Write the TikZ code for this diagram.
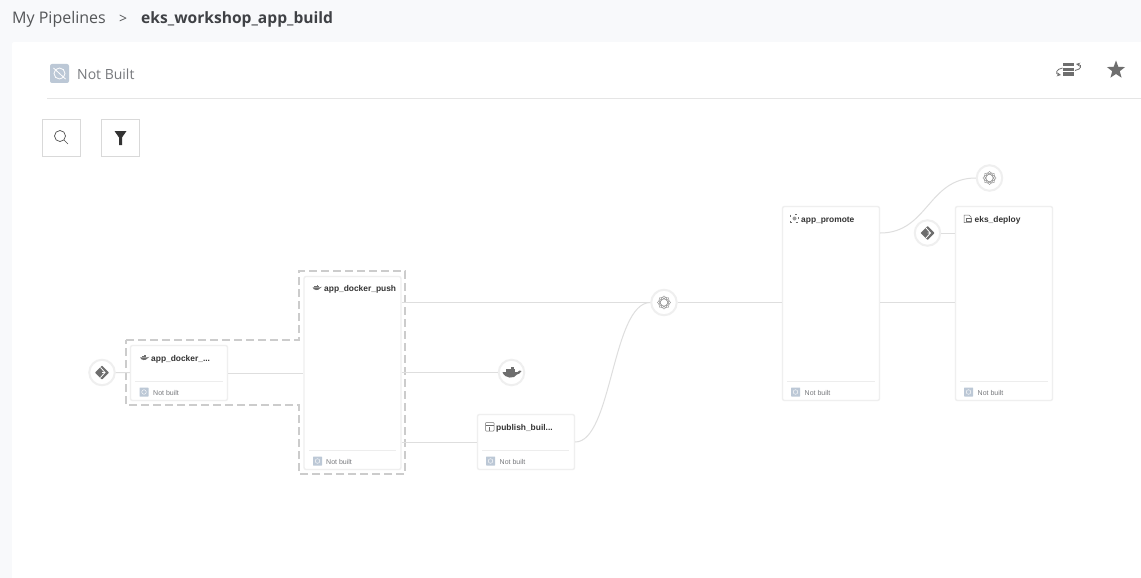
\documentclass[tikz,border=0pt]{standalone}
\usepackage{fontspec}
\setmainfont{Open Sans}
\newfontfamily\cardfont{Liberation Sans}
\usepackage{xcolor}
\usetikzlibrary{shapes.geometric}
\definecolor{pagebg}{HTML}{F8F9FB}
\definecolor{wire}{HTML}{DEDEDE}
\definecolor{rim}{HTML}{EFEFEF}
\definecolor{glyph}{HTML}{6E6E6E}
\definecolor{badge}{HTML}{BCC8D6}
\definecolor{inktext}{HTML}{3F4145}
\definecolor{softtext}{HTML}{77797D}
\tikzset{
	card/.style={shape=rectangle,draw=rim,line width=1.4pt,fill=white,rounded corners=2pt,inner sep=0pt,minimum width=97pt},
	hub/.style={shape=circle,draw=rim,line width=2pt,fill=white,inner sep=0pt,minimum size=25.5pt},
	wireline/.style={draw=wire,line width=1pt},
	cardtitle/.style={anchor=west,inner sep=0pt,text=black!80,font=\cardfont\bfseries\fontsize{8.4}{10}\selectfont},
	cardstate/.style={anchor=west,inner sep=0pt,text=softtext,font=\cardfont\fontsize{7}{9}\selectfont},
	statebox/.style={shape=rectangle,fill=badge,inner sep=0pt,minimum size=9pt,rounded corners=.5pt,
		path picture={\draw[white,line width=.4pt] (path picture bounding box.center) circle (2.3pt);}},
	toolbox/.style={shape=rectangle,draw=black!15,line width=.8pt,fill=white,minimum width=38pt,minimum height=37pt,inner sep=0pt},
	gitmark/.pic={
		\fill[glyph,rounded corners=.6pt] (-7,0) -- (0,-7) -- (7,0) -- (0,7) -- cycle;
		\draw[white,line width=.8pt] (-1.5,-5) -- (3,0) -- (-1.5,5) (3,0) -- (0,0);
	},
	whale/.pic={
		\fill[glyph] (-9,-.5) -- (6,-.5) .. controls (7,-2) and (9,-2.5) .. (10,-1.5) .. controls (9,1) and (7,1.5) .. (5.5,2) .. controls (3,6.5) and (-7,6.5) .. (-9,-.5) -- cycle;
		\fill[glyph] (-6,-3.2) rectangle (3,-1);
		\fill[glyph] (-1,-6) rectangle (2,-3.6);
	},
	knotmark/.pic={
		\foreach \ang in {0,45,90,135}{
			\draw[glyph!75,line width=.45pt,rotate=\ang] (0,0) ellipse (6.5pt and 3.4pt);
		}
	}
}
\begin{document}
\begin{tikzpicture}[x=1pt,y=-1pt]
	\useasboundingbox (0,0) rectangle (1141,578);
	\fill[pagebg] (0,0) rectangle (1141,578);
	\fill[white,rounded corners=2pt] (12,42) rectangle (1150,590);

	%% header
	\node[anchor=base west,inner sep=0pt,text=softtext!70!black,font=\fontsize{16}{18}\selectfont] (crumb) at (12,24) {My Pipelines};
	\node[anchor=base west,inner sep=0pt,text=softtext!70!black,font=\fontsize{14}{18}\selectfont] (crumbsep) at (119,24) {>};
	\node[anchor=base west,inner sep=0pt,text=inktext,font=\bfseries\fontsize{15.6}{18}\selectfont] (pipeline) at (141,24) {eks\_workshop\_app\_build};
	\node[shape=rectangle,fill=badge,rounded corners=2pt,minimum size=19pt,inner sep=0pt] (statusicon) at (59.5,73.5) {};
	\draw[white,line width=.8pt] (statusicon.center) circle (5.5pt);
	\draw[white,line width=.8pt] (53.5,68) -- (65.5,79);
	\node[anchor=base west,inner sep=0pt,text=softtext,font=\fontsize{14}{16}\selectfont] (statustext) at (77,80) {Not Built};
	\draw[black!10,line width=.8pt] (47,98.5) -- (1141,98.5);

	%% tool buttons
	\node[toolbox] (searchbox) at (61,137.5) {};
	\node[toolbox] (filterbox) at (120,137.5) {};
	\draw[glyph!70!black,line width=.7pt] (60,136) circle (5.5pt);
	\draw[glyph!70!black,line width=.7pt] (64,140) -- (68,144);
	\fill[black!80] (114.5,131) -- (126.5,131) -- (122,137.5) -- (122,145) -- (119,145) -- (119,137.5) -- cycle;

	%% top right icons
	\fill[glyph] (1063,63) rectangle (1074,66.5);
	\fill[glyph] (1063,67.8) rectangle (1074,71);
	\fill[glyph] (1063,72.3) rectangle (1074,75.8);
	\draw[glyph,line width=.8pt,->,>=stealth] (1062.5,68) .. controls (1056,69) and (1055,74) .. (1061,75);
	\draw[glyph,line width=.8pt,->,>=stealth] (1075,70.5) .. controls (1081.5,69.5) and (1082,65) .. (1076,64);
	\node[shape=star,star points=5,star point ratio=2.4,fill=glyph,inner sep=0pt,minimum size=19pt] (favstar) at (1116,70) {};

	%% group outline
	\draw[black!20,line width=1.2pt,dash pattern=on 8pt off 4pt] (126,340) -- (299,340) -- (299,271) -- (405,271) -- (405,474) -- (299,474) -- (299,405) -- (126,405) -- cycle;

	%% cards
	\node[card,minimum height=55pt] (dockerbuild) at (179,373) {};
	\node[card,minimum height=193pt] (dockerpush) at (352.5,373) {};
	\node[card,minimum height=55pt] (publish) at (526,442) {};
	\node[card,minimum height=194pt] (promote) at (831,303.5) {};
	\node[card,minimum height=194pt] (deploy) at (1004,303.5) {};

	%% round steps
	\node[hub] (gitstart) at (102,372.5) {};
	\node[hub] (dockerstep) at (511.5,372.5) {};
	\node[hub] (syncstep) at (664,302.5) {};
	\node[hub] (topstep) at (989.5,178) {};
	\node[hub] (gitdeploy) at (927.5,233) {};

	%% lines
	\draw[wireline] (gitstart) -- (dockerbuild);
	\draw[wireline] (dockerbuild) -- (dockerpush);
	\draw[wireline] (dockerpush.east |- syncstep) -- (syncstep);
	\draw[wireline] (dockerpush.east |- dockerstep) -- (dockerstep);
	\draw[wireline] (dockerpush.east |- publish) -- (publish);
	\draw[wireline] (publish.east) .. controls (612,442) and (612,303) .. (syncstep.west);
	\draw[wireline] (syncstep) -- (promote.west |- syncstep);
	\draw[wireline] (promote.east |- gitdeploy) .. controls (928,233) and (928,178) .. (topstep.west);
	\draw[wireline] (gitdeploy) -- (deploy.west |- gitdeploy);
	\draw[wireline] (promote.east |- syncstep) -- (deploy.west |- syncstep);

	%% step icons
	\pic at (gitstart) {gitmark};
	\pic at (gitdeploy) {gitmark};
	\pic at (dockerstep) {whale};
	\pic at (syncstep) {knotmark};
	\pic at (topstep) {knotmark};

	%% card texts
	\pic[scale=.5] at (144.5,357.5) {whale};
	\node[cardtitle] (dockerbuildname) at (151,359.5) {app\_docker\_...};
	\draw[black!7,line width=.7pt] (135,381) -- (223,381);
	\node[statebox] (dockerbuildbox) at (144,392) {};
	\node[cardstate] (dockerbuildstate) at (153,392.7) {Not built};

	\pic[scale=.5] at (317,287.5) {whale};
	\node[cardtitle] (dockerpushname) at (324,289.5) {app\_docker\_push};
	\draw[black!7,line width=.7pt] (309,450.5) -- (396,450.5);
	\node[statebox] (dockerpushbox) at (317.5,461) {};
	\node[cardstate] (dockerpushstate) at (326,461.7) {Not built};

	\draw[glyph,line width=.5pt,rounded corners=.8pt] (485.5,422.5) rectangle (494,431);
	\draw[glyph,line width=.5pt] (485.5,425) -- (494,425) (489.7,427) -- (489.7,431);
	\node[cardtitle] (publishname) at (496,428.5) {publish\_buil...};
	\draw[black!7,line width=.7pt] (482,450.5) -- (569,450.5);
	\node[statebox] (publishbox) at (490.5,461) {};
	\node[cardstate] (publishstate) at (499.5,461.7) {Not built};

	\draw[glyph,line width=.5pt,dash pattern=on 2pt off 4.5pt] (790.5,214.5) rectangle (798.5,222.5);
	\fill[glyph!70] (794.5,218.5) circle (2pt);
	\node[cardtitle] (promotename) at (801,220.5) {app\_promote};
	\draw[black!7,line width=.7pt] (787,381) -- (875,381);
	\node[statebox] (promotebox) at (795.5,392) {};
	\node[cardstate] (promotestate) at (804.5,392.7) {Not built};

	\draw[glyph,line width=.5pt] (964,215) -- (969,215) -- (971,217) -- (971,222.5) -- (964,222.5) -- cycle;
	\draw[glyph,line width=.5pt] (966,218) rectangle (971.5,221);
	\node[cardtitle] (deployname) at (974.5,220.5) {eks\_deploy};
	\draw[black!7,line width=.7pt] (960,381) -- (1048,381);
	\node[statebox] (deploybox) at (968.5,392) {};
	\node[cardstate] (deploystate) at (977.5,392.7) {Not built};
\end{tikzpicture}
\end{document}
